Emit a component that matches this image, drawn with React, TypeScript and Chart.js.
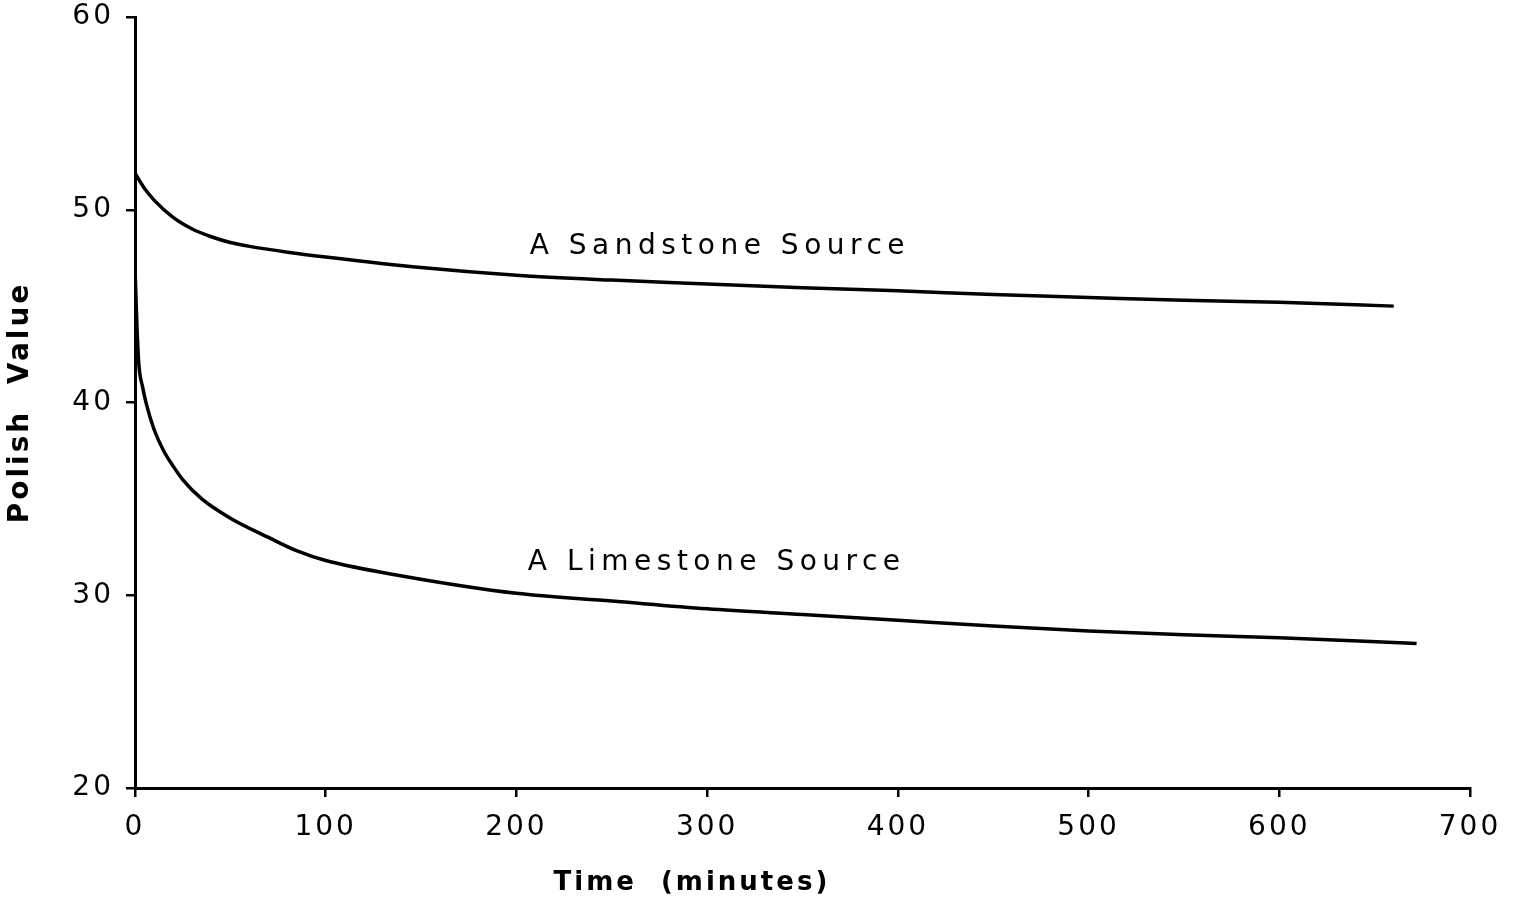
import React, { useEffect, useRef } from "react";
import { Chart, registerables } from "chart.js";

Chart.register(...registerables);

const sandTime = [0, 5, 10, 20, 30, 40, 50, 60, 80, 100, 150, 200, 250, 300, 350, 400, 450, 500, 550, 600, 660];
const sandValue = [51.9, 51.1, 50.5, 49.6, 49.0, 48.6, 48.3, 48.1, 47.8, 47.55, 47.0, 46.6, 46.35, 46.15, 45.95, 45.8, 45.6, 45.45, 45.3, 45.2, 45.0];

const limeTime = [0, 1, 2, 4, 6, 10, 15, 20, 25, 35, 50, 70, 85, 100, 140, 200, 250, 300, 350, 400, 450, 500, 550, 600, 672];
const limeValue = [47.0, 44.0, 42.0, 40.8, 39.9, 38.6, 37.5, 36.7, 36.0, 35.0, 34.0, 33.0, 32.3, 31.8, 31.0, 30.1, 29.7, 29.3, 29.0, 28.7, 28.4, 28.15, 27.95, 27.8, 27.5];

const seriesNames = ["A Sandstone Source", "A Limestone Source"];
const labelX = [207, 206];
const labelY = [48.1, 31.7];

const xTitle = "Time  (minutes)";
const yTitle = "Polish  Value";

const FONT = "'DejaVu Sans', sans-serif";

const spacingPlugin = {
  id: "spacing",
  beforeUpdate(chart: any) {
    chart.ctx.letterSpacing = "3px";
  },
  beforeDraw(chart: any) {
    chart.ctx.letterSpacing = "3px";
  },
};

const annotationPlugin = {
  id: "curveLabels",
  afterDraw(chart: any) {
    const ctx = chart.ctx;
    const xs = chart.scales.x;
    const ys = chart.scales.y;
    ctx.save();
    ctx.fillStyle = "#000";
    ctx.letterSpacing = "5.5px";
    ctx.font = `28px ${FONT}`;
    ctx.textBaseline = "middle";
    ctx.textAlign = "left";
    seriesNames.forEach((name, i) => {
      ctx.fillText(name, xs.getPixelForValue(labelX[i]), ys.getPixelForValue(labelY[i]));
    });
    // x-axis title, set left of centre as in the original
    ctx.letterSpacing = "3px";
    ctx.font = `bold 26px ${FONT}`;
    ctx.textAlign = "center";
    ctx.fillText(xTitle, xs.getPixelForValue(292), xs.bottom - 20);
    ctx.restore();
  },
};

export default function App() {
  const ref = useRef<HTMLCanvasElement | null>(null);

  useEffect(() => {
    if (!ref.current) return;
    const sand = sandTime.map((t, i) => ({ x: t, y: sandValue[i] }));
    const lime = limeTime.map((t, i) => ({ x: t, y: limeValue[i] }));
    const chart = new Chart(ref.current, {
      type: "line",
      data: {
        datasets: [
          {
            label: seriesNames[0],
            data: sand,
            borderColor: "#000",
            borderWidth: 3.5,
            pointRadius: 0,
            cubicInterpolationMode: "monotone",
            fill: false,
          },
          {
            label: seriesNames[1],
            data: lime,
            borderColor: "#000",
            borderWidth: 3.5,
            pointRadius: 0,
            cubicInterpolationMode: "monotone",
            fill: false,
          },
        ],
      },
      options: {
        animation: false,
        responsive: false,
        layout: { padding: { top: 17, right: 50, left: 0, bottom: 0 } },
        plugins: {
          legend: { display: false },
          tooltip: { enabled: false },
        },
        scales: {
          x: {
            type: "linear",
            min: 0,
            max: 700,
            afterFit: (s: any) => {
              s.height = 115;
            },
            ticks: {
              stepSize: 100,
              color: "#000",
              padding: 14,
              maxRotation: 0,
              font: { family: FONT, size: 28 },
            },
            grid: {
              display: true,
              drawOnChartArea: false,
              drawTicks: true,
              tickLength: 9,
              color: "#000",
              lineWidth: 2.5,
            },
            border: { display: true, color: "#000", width: 3 },
            title: { display: false, text: xTitle },
          },
          y: {
            type: "linear",
            min: 20,
            max: 60,
            afterFit: (s: any) => {
              s.width = 135;
              s.paddingTop = 0;
              s.paddingBottom = 0;
            },
            ticks: {
              stepSize: 10,
              color: "#000",
              padding: 12,
              font: { family: FONT, size: 28 },
            },
            grid: {
              display: true,
              drawOnChartArea: false,
              drawTicks: true,
              tickLength: 9,
              color: "#000",
              lineWidth: 2.5,
            },
            border: { display: true, color: "#000", width: 3 },
            title: {
              display: true,
              text: yTitle,
              color: "#000",
              font: { family: FONT, size: 28, weight: "bold" },
              padding: { top: 4, bottom: 0 },
            },
          },
        },
      },
      plugins: [spacingPlugin, annotationPlugin],
    } as any);
    return () => chart.destroy();
  }, []);

  return (
    <div style={{ position: "fixed", left: 0, top: 0, width: 1520, height: 903, background: "#fff" }}>
      <canvas ref={ref} width={1520} height={903} style={{ display: "block" }} />
    </div>
  );
}
